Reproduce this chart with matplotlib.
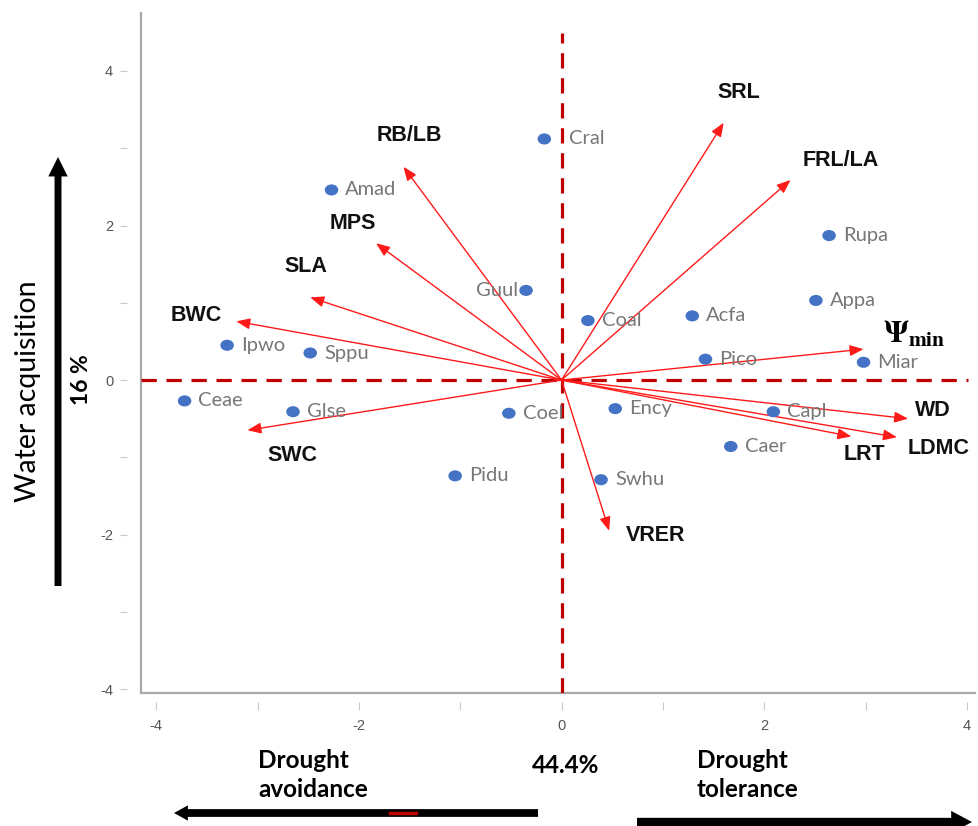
import matplotlib
matplotlib.use("Agg")
import matplotlib.pyplot as plt
from matplotlib.path import Path
from matplotlib.transforms import Affine2D

# ---------------- data ----------------
species = ["Cral", "Amad", "Rupa", "Guul", "Appa", "Coal", "Acfa", "Ipwo", "Sppu",
           "Pico", "Miar", "Ceae", "Glse", "Coel", "Ency", "Capl", "Caer", "Swhu", "Pidu"]
species_pc1 = [-0.17, -2.27, 2.64, -0.35, 2.51, 0.26, 1.29, -3.30, -2.48,
               1.42, 2.98, -3.72, -2.65, -0.52, 0.53, 2.09, 1.67, 0.39, -1.05]
species_pc2 = [3.12, 2.46, 1.87, 1.16, 1.03, 0.77, 0.83, 0.45, 0.35,
               0.27, 0.23, -0.27, -0.41, -0.43, -0.37, -0.41, -0.86, -1.29, -1.24]

traits = ["RB/LB", "MPS", "SLA", "BWC", "SWC", "SRL", "FRL/LA",
          r"$\mathbf{\Psi}_{\mathbf{min}}$", "WD", "LDMC", "LRT", "VRER"]
trait_pc1 = [-1.56, -1.83, -2.48, -3.21, -3.10, 1.60, 2.26, 2.98, 3.42, 3.31, 2.86, 0.47]
trait_pc2 = [2.76, 1.77, 1.07, 0.76, -0.65, 3.33, 2.59, 0.40, -0.50, -0.74, -0.73, -1.95]

major_ticks = [-4, -2, 0, 2, 4]
minor_ticks = [-3, -1, 1, 3]

y_title = "Water acquisition"
y_pct = "16 %"
x_pct = "44.4%"
left_label = ["Drought", "avoidance"]
right_label = ["Drought", "tolerance"]

# ---------------- layout / style ----------------
W, H = 979, 826
def fx(px):
    return px / W
def fy(py):
    return 1 - py / H

# label placement for trait names (data coords of text centre)
trait_label_pos = {
    "RB/LB": (-1.50, 3.17), "MPS": (-2.06, 2.03), "SLA": (-2.52, 1.47),
    "BWC": (-3.60, 0.83), "SWC": (-2.66, -0.98), "SRL": (1.75, 3.72),
    "FRL/LA": (2.76, 2.84), traits[7]: (3.48, 0.60), "WD": (3.66, -0.40),
    "LDMC": (3.72, -0.89), "LRT": (2.99, -0.96), "VRER": (0.93, -2.01),
}
species_offset = {"Cral": (18, 0), "Guul": (-6, 0)}

plt.rcParams["mathtext.fontset"] = "stix"
plt.rcParams["lines.scale_dashes"] = False

fig = plt.figure(figsize=(W / 100, H / 100), dpi=100)
ax = fig.add_axes([fx(141), fy(693), fx(975) - fx(141), fy(13) - fy(693)])
ax.set_xlim(-4.15, 4.08)
ax.set_ylim(-4.05, 4.75)

for s in ax.spines.values():
    s.set_visible(False)
ax.spines["left"].set_position(("outward", 10))
ax.spines["bottom"].set_position(("outward", 6.5))

spine_c = "#a9a9a9"
ax.plot([0, 0], [0, 1], transform=ax.transAxes, color=spine_c, lw=1.6, clip_on=False, zorder=1)
ax.plot([0, 1], [0, 0], transform=ax.transAxes, color=spine_c, lw=1.6, clip_on=False, zorder=1)

ax.set_xticks(major_ticks)
ax.set_xticks(minor_ticks, minor=True)
ax.set_yticks(major_ticks)
ax.set_yticks(minor_ticks, minor=True)
ax.set_xticklabels([str(t) for t in major_ticks], family="Liberation Sans")
ax.set_yticklabels([str(t) for t in major_ticks], family="Liberation Sans")
ax.tick_params(axis="x", which="both", length=6, width=0.8, color="#c8c8c8",
               labelsize=10.5, labelcolor="#555555", pad=6)
ax.tick_params(axis="y", which="both", length=5, width=0.8, color="#c8c8c8",
               labelsize=10.5, labelcolor="#555555", pad=5)
for t in ax.xaxis.get_major_ticks():
    if t.get_loc() == 0:
        t.tick1line.set_color("#c00000")

# dashed reference lines
dash_c = "#c00000"
ax.axhline(0, xmin=0, xmax=0.992, color=dash_c, lw=2.3, dashes=(11, 7), zorder=2)
ax.axvline(0, ymin=0, ymax=0.97, color=dash_c, lw=2.3, dashes=(11, 7), zorder=2)

# trait vectors
for name, tx, ty in zip(traits, trait_pc1, trait_pc2):
    ax.annotate("", xy=(tx, ty), xytext=(0, 0),
                arrowprops=dict(arrowstyle="-|>,head_length=0.55,head_width=0.22",
                                color="#ff1a1a", lw=1.0, mutation_scale=15,
                                shrinkA=0, shrinkB=0), zorder=3)
    lx, ly = trait_label_pos[name]
    if name.startswith("$"):
        ax.text(lx, ly, name, fontsize=22, color="black", ha="center", va="center", zorder=6)
    else:
        ax.text(lx, ly, name, fontsize=15.5, fontweight="bold", family="Liberation Sans",
                color="#111111", ha="center", va="center", zorder=6)

# species scores
ell = Path.unit_circle().transformed(Affine2D().scale(1.0, 0.82))
ax.scatter(species_pc1, species_pc2, s=95, marker=ell, color="#4472c4",
           edgecolor="none", zorder=5)
for name, x, y in zip(species, species_pc1, species_pc2):
    dx, dy = species_offset.get(name, (10, 0))
    ax.annotate(name, (x, y), xytext=(dx, dy), textcoords="offset points",
                ha="right" if dx < 0 else "left", va="center",
                fontsize=14.5, family="Lato", color="#777777", zorder=6)

# axis annotations (outside axes)
fig.text(fx(28.5), fy(391), y_title, rotation=90, ha="center", va="center",
         fontsize=20.5, family="Lato", color="black")
fig.text(fx(81), fy(380), y_pct, rotation=90, ha="center", va="center",
         fontsize=16.5, family="Lato", fontweight="bold", color="black")
ax.annotate("", xy=(fx(58), fy(157)), xytext=(fx(58), fy(586)),
            xycoords="figure fraction", textcoords="figure fraction",
            arrowprops=dict(arrowstyle="simple,head_length=0.7,head_width=0.7,tail_width=0.25",
                            color="black", lw=0, mutation_scale=20, shrinkA=0, shrinkB=0),
            annotation_clip=False)

bfs = 17.5
fig.text(fx(258), fy(768), left_label[0], ha="left", va="baseline",
         fontsize=bfs, family="Lato", fontweight="bold", color="black")
fig.text(fx(258), fy(797), left_label[1], ha="left", va="baseline",
         fontsize=bfs, family="Lato", fontweight="bold", color="black")
fig.text(fx(697), fy(768), right_label[0], ha="left", va="baseline",
         fontsize=bfs, family="Lato", fontweight="bold", color="black")
fig.text(fx(697), fy(797), right_label[1], ha="left", va="baseline",
         fontsize=bfs, family="Lato", fontweight="bold", color="black")
fig.text(fx(566), fy(773), x_pct, ha="center", va="baseline",
         fontsize=bfs, family="Lato", fontweight="bold", color="black")

ax.annotate("", xy=(fx(174), fy(813)), xytext=(fx(538), fy(813)),
            xycoords="figure fraction", textcoords="figure fraction",
            arrowprops=dict(arrowstyle="simple,head_length=0.5,head_width=0.55,tail_width=0.28",
                            color="black", lw=0, mutation_scale=20, shrinkA=0, shrinkB=0),
            annotation_clip=False)
fig.add_artist(plt.Line2D([fx(390), fx(416)], [fy(813), fy(813)], color="#c00000", lw=2.5))
ax.annotate("", xy=(fx(972), fy(822)), xytext=(fx(637), fy(822)),
            xycoords="figure fraction", textcoords="figure fraction",
            arrowprops=dict(arrowstyle="simple,head_length=0.75,head_width=0.8,tail_width=0.3",
                            color="black", lw=0, mutation_scale=20, shrinkA=0, shrinkB=0),
            annotation_clip=False)

fig.savefig("out.png", dpi=100, facecolor="white")
